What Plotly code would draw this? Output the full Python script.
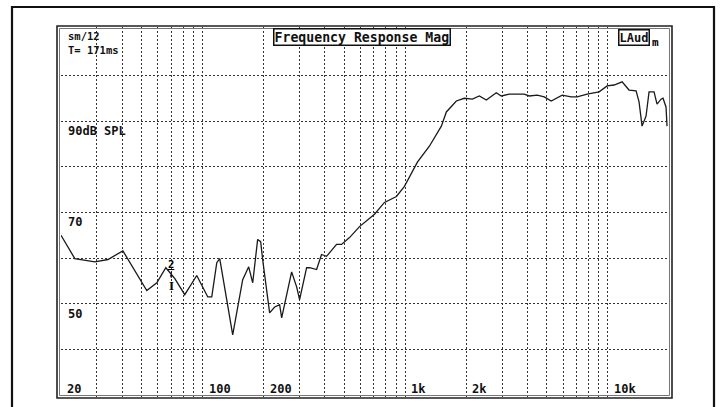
import math
import plotly.graph_objects as go

# ---- data ----
freq_hz = [20, 23.4, 29.4, 34.1, 40.4, 53.0, 59.4, 65.8, 72.9, 81.6,
           93.5, 106, 110.9, 117.4, 121.4, 140.7, 157.6, 168.7, 176.6, 186.8,
           193.3, 197.7, 214, 226.6, 239.8, 245.4, 274.8, 290.9, 300.8, 325.8,
           337, 364.9, 386, 408.6, 457.9, 484.6, 530.4, 594, 704.6, 789,
           904, 990, 1147, 1314, 1506, 1594, 1785, 1955, 2142, 2318,
           2510, 2811, 2975, 3256, 3862, 4086, 4474, 4846, 5246, 5942,
           6580, 7044, 7892, 9042, 9900, 10718, 11738, 12706, 13757, 14232,
           14726, 15408, 15944, 16874, 17458, 18268, 18686, 19330, 19560]
spl_db = [65.0, 59.9, 59.2, 59.7, 61.6, 52.9, 54.6, 57.9, 55.5, 52.0,
          56.2, 51.5, 51.5, 59.0, 59.9, 43.2, 55.3, 58.1, 54.6, 64.1,
          63.6, 59.7, 48.0, 49.3, 49.8, 46.9, 57.0, 53.7, 50.9, 57.9,
          57.9, 57.5, 60.8, 60.4, 63.0, 63.0, 64.5, 66.9, 69.6, 72.2,
          73.5, 75.7, 81.0, 84.5, 88.9, 92.0, 94.4, 95.0, 94.8, 95.5,
          94.6, 96.2, 95.5, 95.9, 95.9, 95.5, 95.7, 95.3, 94.4, 95.7,
          95.3, 95.3, 95.9, 96.4, 97.7, 97.9, 98.6, 96.8, 96.6, 94.2,
          88.9, 91.1, 96.4, 96.4, 93.7, 94.8, 95.0, 93.1, 88.9]

x_grid = [m * d for d in (10, 100, 1000, 10000) for m in range(1, 10)
          if 20 <= m * d <= 20000] + [20000]
y_grid = [40, 50, 60, 70, 80, 90, 100]

x_tick_vals = [20, 100, 200, 1000, 2000, 10000]
x_tick_text = ["20", "100", "200", "1k", "2k", "10k"]
y_tick_vals = [90, 70, 50]
y_tick_text = ["90dB SPL", "70", "50"]

title_text = "Frequency Response Mag"
info_lines = ["sm/12", "T= 171ms"]
marker_freq = 70

FONT = "DejaVu Sans Mono"

fig = go.Figure()
fig.add_trace(go.Scatter(x=freq_hz, y=spl_db, mode="lines",
                         line=dict(color="#1a1a1a", width=1.3),
                         hoverinfo="skip", showlegend=False))

fig.update_layout(
    width=723, height=407, autosize=False,
    margin=dict(l=61, r=54, t=27, b=10, pad=0),
    paper_bgcolor="white", plot_bgcolor="white",
    xaxis=dict(type="log", range=[math.log10(20), math.log10(20000)],
               tickvals=x_grid, showticklabels=False, ticks="",
               showgrid=True, gridcolor="#333", gridwidth=1,
               griddash="2px,2px", zeroline=False, showline=False),
    yaxis=dict(range=[29.6, 110.6], tickvals=y_grid, showticklabels=False,
               ticks="", showgrid=True, gridcolor="#333", gridwidth=1,
               griddash="2px,2px", zeroline=False, showline=False),
)

ann = []
tick_font = dict(family=FONT, size=12, color="#111")
for v, t in zip(x_tick_vals, x_tick_text):
    ann.append(dict(x=math.log10(v), y=31.4, xref="x", yref="y",
                    text="<b>%s</b>" % t, showarrow=False, xanchor="left",
                    yanchor="middle", xshift=4, font=tick_font))
for v, t in zip(y_tick_vals, y_tick_text):
    ann.append(dict(x=math.log10(20), y=v, xref="x", yref="y",
                    text="<b>%s</b>" % t, showarrow=False, xanchor="left",
                    yanchor="top", xshift=5, yshift=-1, font=tick_font))
ann.append(dict(x=0.008, y=0.996, xref="paper", yref="paper",
                text="<b>%s<br>%s</b>" % tuple(info_lines), showarrow=False,
                xanchor="left", yanchor="top", align="left",
                font=dict(family=FONT, size=10.5, color="#111")))
ann.append(dict(x=0.495, y=0.972, xref="paper", yref="paper",
                text="<b>%s</b>" % title_text, showarrow=False,
                xanchor="center", yanchor="middle",
                bordercolor="#111", borderwidth=1.5, borderpad=0,
                bgcolor="white",
                font=dict(family=FONT, size=13.2, color="#111")))
ann.append(dict(x=0.943, y=0.972, xref="paper", yref="paper",
                text="<b>LAud</b>", showarrow=False,
                xanchor="center", yanchor="middle",
                bordercolor="#111", borderwidth=1.5, borderpad=0,
                bgcolor="white",
                font=dict(family=FONT, size=12, color="#111")))
ann.append(dict(x=0.969, y=0.957, xref="paper", yref="paper",
                text="<b>m</b>", showarrow=False,
                xanchor="left", yanchor="middle",
                font=dict(family=FONT, size=11, color="#000")))
ann.append(dict(x=math.log10(marker_freq), y=55.6, xref="x", yref="y",
                text="<b><u>2</u></b>", showarrow=True, ax=0, ay=-14,
                arrowhead=2, arrowsize=0.6, arrowwidth=1, arrowcolor="#111",
                font=dict(family=FONT, size=10.5, color="#000")))
ann.append(dict(x=math.log10(marker_freq), y=54.0, xref="x", yref="y",
                text="<b>I</b>", showarrow=False, xanchor="center",
                yanchor="middle",
                font=dict(family="Liberation Serif", size=13, color="#000")))
fig.update_layout(annotations=ann)

W, H = 608.0, 370.0
def px(x):
    return (x - 61) / W
def py(y):
    return (397 - y) / H

shapes = [
    # outer frame
    dict(type="rect", xref="paper", yref="paper", x0=px(12), x1=px(714),
         y0=py(412), y1=py(7), line=dict(color="#111", width=2.2)),
    # inner double border
    dict(type="rect", xref="paper", yref="paper", x0=px(57), x1=px(672),
         y0=py(398), y1=py(26), line=dict(color="#222", width=1.6)),
    dict(type="rect", xref="paper", yref="paper", x0=px(59.5), x1=px(669.5),
         y0=py(395.5), y1=py(28.5), line=dict(color="#777", width=1)),
]
fig.update_layout(shapes=shapes)

fig.write_html("out.html", config={"displayModeBar": False},
               post_script="document.body.style.margin='0px';"
                           "document.body.style.overflow='hidden';")
